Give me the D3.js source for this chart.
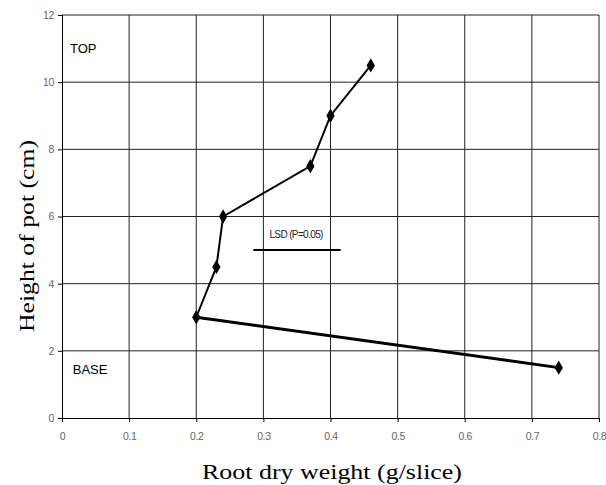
<!DOCTYPE html>
<html>
<head>
<meta charset="utf-8">
<script src="https://d3js.org/d3.v7.min.js"></script>
<style>
  body { margin: 0; background: #fff; }
</style>
</head>
<body>
<div id="chart"></div>
<script>
// data
var weight = [0.74, 0.20, 0.23, 0.24, 0.37, 0.40, 0.46];
var height = [1.5, 3.0, 4.5, 6.0, 7.5, 9.0, 10.5];
var xTicks = [0, 0.1, 0.2, 0.3, 0.4, 0.5, 0.6, 0.7, 0.8];
var yTicks = [0, 2, 4, 6, 8, 10, 12];
var lsdX = [0.285, 0.415];
var lsdY = 5.0;

var W = 606, H = 485;
var margin = {top: 15, right: 7, bottom: 67, left: 62};
var w = W - margin.left - margin.right,
    h = H - margin.top - margin.bottom;

var svg = d3.select("#chart").append("svg")
    .attr("width", W).attr("height", H);
var g = svg.append("g")
    .attr("transform", "translate(" + margin.left + "," + margin.top + ")");

var x = d3.scaleLinear().domain([0, 0.8]).range([0, w]);
var y = d3.scaleLinear().domain([0, 12]).range([h, 0]);

// grid
g.selectAll(".vgrid").data(xTicks.slice(1)).enter().append("line")
    .attr("x1", function(d) { return x(d); }).attr("x2", function(d) { return x(d); })
    .attr("y1", 0).attr("y2", h)
    .attr("stroke", "#222").attr("stroke-width", 1);
g.selectAll(".hgrid").data(yTicks.slice(1)).enter().append("line")
    .attr("y1", function(d) { return y(d); }).attr("y2", function(d) { return y(d); })
    .attr("x1", 0).attr("x2", w)
    .attr("stroke", "#222").attr("stroke-width", 1);

// axes
var xAxis = g.append("g")
    .attr("transform", "translate(0," + h + ")")
    .call(d3.axisBottom(x).tickValues(xTicks).tickSize(4).tickPadding(11)
      .tickFormat(function(d) { return d3.format("")(+d.toFixed(1)); }));
var yAxis = g.append("g")
    .call(d3.axisLeft(y).tickValues(yTicks).tickSize(4).tickPadding(4));
[xAxis, yAxis].forEach(function(a) {
  a.select(".domain").attr("stroke", "#000");
  a.selectAll(".tick line").attr("stroke", "#000");
  a.selectAll("text").attr("fill", "#666")
    .style("font-family", "'Liberation Sans Narrow', 'Liberation Sans', Arial, sans-serif")
    .style("font-size", "10.5px")
    .style("letter-spacing", "-0.4px");
});

// series
var pts = weight.map(function(d, i) { return [d, height[i]]; });
var line = d3.line().x(function(d) { return x(d[0]); }).y(function(d) { return y(d[1]); });
g.append("path").datum(pts.slice(0, 2))
    .attr("d", line).attr("fill", "none")
    .attr("stroke", "#000").attr("stroke-width", 3);
g.append("path").datum(pts.slice(1))
    .attr("d", line).attr("fill", "none")
    .attr("stroke", "#000").attr("stroke-width", 2);
g.selectAll(".pt").data(pts).enter().append("path")
    .attr("d", d3.symbol().type(d3.symbolDiamond).size(60))
    .attr("transform", function(d) { return "translate(" + x(d[0]) + "," + y(d[1]) + ")"; })
    .attr("fill", "#000");

// LSD bar
g.append("line")
    .attr("x1", x(lsdX[0])).attr("x2", x(lsdX[1]))
    .attr("y1", y(lsdY)).attr("y2", y(lsdY))
    .attr("stroke", "#000").attr("stroke-width", 2);
g.append("text")
    .attr("x", x(0.309)).attr("y", y(5.37))
    .style("font-family", "'Liberation Sans', Arial, sans-serif")
    .style("font-size", "10px").attr("fill", "#222")
    .attr("textLength", 54)
    .text("LSD (P=0.05)");

// labels in plot
g.append("text").attr("x", x(0.012)).attr("y", y(10.87))
    .style("font-family", "'Liberation Sans', Arial, sans-serif")
    .style("font-size", "13px").attr("fill", "#000")
    .text("TOP");
g.append("text").attr("x", x(0.016)).attr("y", y(1.32))
    .style("font-family", "'Liberation Sans', Arial, sans-serif")
    .style("font-size", "13px").attr("fill", "#000")
    .text("BASE");

// axis titles
svg.append("text")
    .attr("x", 332).attr("y", 479)
    .attr("text-anchor", "middle")
    .style("font-family", "'Liberation Serif', 'Times New Roman', serif")
    .style("font-size", "22px")
    .attr("textLength", 260).attr("lengthAdjust", "spacingAndGlyphs")
    .text("Root dry weight (g/slice)");
svg.append("text")
    .attr("transform", "translate(34,236) rotate(-90)")
    .attr("text-anchor", "middle")
    .style("font-family", "'Liberation Serif', 'Times New Roman', serif")
    .style("font-size", "22px")
    .attr("textLength", 192).attr("lengthAdjust", "spacingAndGlyphs")
    .text("Height of pot (cm)");
</script>
</body>
</html>
